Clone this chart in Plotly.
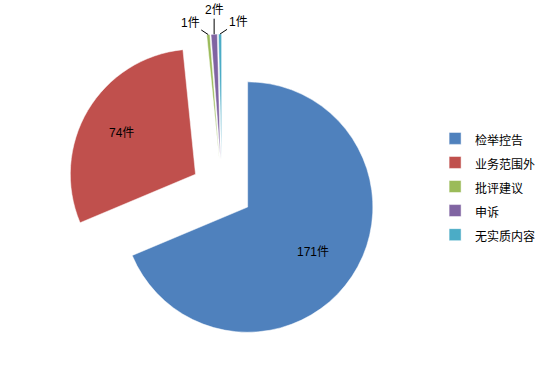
import math
import plotly.graph_objects as go

labels = ["检举控告", "业务范围外", "批评建议", "申诉", "无实质内容"]
values = [171, 74, 1, 2, 1]
colors = ["#4F81BD", "#C0504D", "#9BBB59", "#8064A2", "#4BACC6"]
unit = "件"

# figure geometry (pixels)
W, H = 547, 379
ML, MR, MT, MB = 66, 169, 34, 33
PULL = 0.246
PW, PH = W - ML - MR, H - MT - MB
CX, CY = ML + PW / 2, MT + PH / 2
R = min(PW, PH) / 2 / (1 + PULL)

# label placement: radius fraction from slice centre, angle shift (deg), text offset for leader lines
label_style = [
    dict(frac=0.794, dang=-0.7, arrow=False),
    dict(frac=0.813, dang=-1.1, arrow=False),
    dict(frac=1.0, dang=0.0, arrow=True, ax=-18, ay=-12),
    dict(frac=1.0, dang=0.0, arrow=True, ax=0, ay=-24),
    dict(frac=1.0, dang=0.0, arrow=True, ax=18, ay=-12),
]

legend_labels = ['<span style="font-size:12px">%s</span>' % s for s in labels]

fig = go.Figure(go.Pie(
    labels=legend_labels,
    values=values,
    sort=False,
    direction="clockwise",
    rotation=0,
    pull=PULL,
    marker=dict(colors=colors, line=dict(color="white", width=0.5)),
    textinfo="none",
    domain=dict(x=[0, 1], y=[0, 1]),
    hovertext=labels,
    hoverinfo="text+value",
))

total = sum(values)
cum = 0
for i, v in enumerate(values):
    mid = (cum + v / 2) / total * 360
    cum += v
    st = label_style[i]
    ang = math.radians(mid)
    # centre of the pulled slice
    sx = CX + PULL * R * math.sin(ang)
    sy = CY - PULL * R * math.cos(ang)
    a2 = math.radians(mid + st["dang"])
    px = sx + st["frac"] * R * math.sin(a2)
    py = sy - st["frac"] * R * math.cos(a2)
    xp = (px - ML) / PW
    yp = (MT + PH - py) / PH
    ann = dict(
        x=xp, y=yp, xref="paper", yref="paper",
        text="%d%s" % (v, unit),
        font=dict(family="Liberation Sans, Noto Sans CJK SC", size=12, color="black"),
    )
    if st["arrow"]:
        ann.update(showarrow=True, arrowhead=0, arrowwidth=1, arrowcolor="black",
                   ax=st["ax"], ay=st["ay"], standoff=0, startstandoff=0)
    else:
        ann.update(showarrow=False)
    fig.add_annotation(**ann)

fig.update_layout(
    width=W, height=H,
    margin=dict(l=ML, r=MR, t=MT, b=MB, autoexpand=False),
    paper_bgcolor="white",
    plot_bgcolor="white",
    font=dict(family="Noto Sans CJK SC", size=12, color="black"),
    showlegend=True,
    legend=dict(
        x=1.183, y=0.72, xanchor="left", yanchor="top",
        font=dict(family="Noto Sans CJK SC", size=16.2, color="black"),
        itemwidth=30,
    ),
)

fig.write_html("out.html")
